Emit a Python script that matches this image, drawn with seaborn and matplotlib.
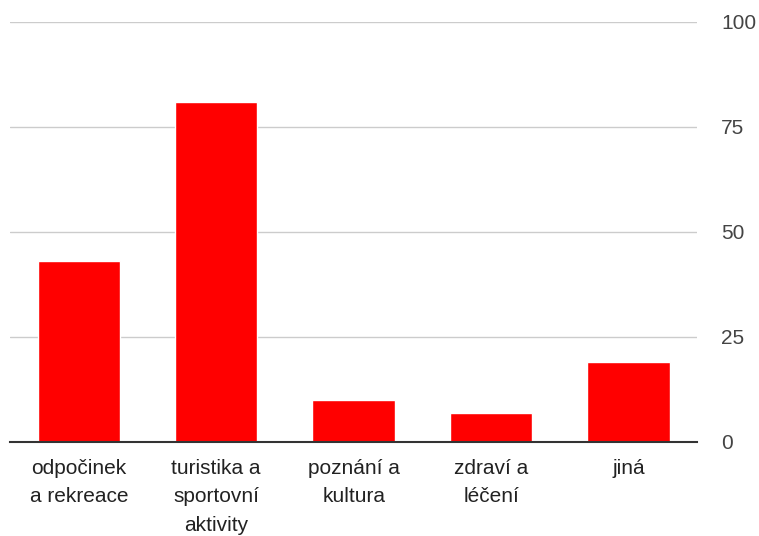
import seaborn as sns
import matplotlib.pyplot as plt
import pandas as pd

# Data
categories = ["odpočinek\na rekreace", "turistika a\nsportovní\naktivity",
              "poznání a\nkultura", "zdraví a\nléčení", "jiná"]
counts = [43, 81, 10, 7, 19]
y_ticks = [0, 25, 50, 75, 100]


def main():
    df = pd.DataFrame({"kategorie": categories, "pocet": counts})

    sns.set_style("white")
    plt.rcParams['font.family'] = ['Liberation Sans', 'DejaVu Sans']

    fig = plt.figure(figsize=(7.59, 5.36), dpi=100)
    ax = fig.add_axes([0.0132, 0.1754, 0.9057, 0.7836])

    sns.barplot(data=df, x="kategorie", y="pocet", color="#ff0000",
                saturation=1, width=0.6, ax=ax, zorder=3)

    ax.set_xlim(-0.5, len(categories) - 0.5)
    ax.set_ylim(0, 100)
    ax.set_yticks(y_ticks)
    ax.yaxis.tick_right()
    ax.grid(axis="y", color="#cccccc", linewidth=1, zorder=0)
    ax.set_xlabel("")
    ax.set_ylabel("")

    for side in ["top", "left", "right"]:
        ax.spines[side].set_visible(False)
    ax.spines["bottom"].set_color("#333333")
    ax.spines["bottom"].set_linewidth(1.5)
    ax.spines["bottom"].set_zorder(4)

    ax.tick_params(axis="y", length=0, pad=17, labelsize=15, labelcolor="#444444")
    ax.tick_params(axis="x", length=0, pad=12, labelsize=15, labelcolor="#222222")
    for lbl in ax.get_xticklabels():
        lbl.set_linespacing(1.65)
        lbl.set_verticalalignment("top")

    fig.savefig("out.png", dpi=100)


if __name__ == "__main__":
    main()
